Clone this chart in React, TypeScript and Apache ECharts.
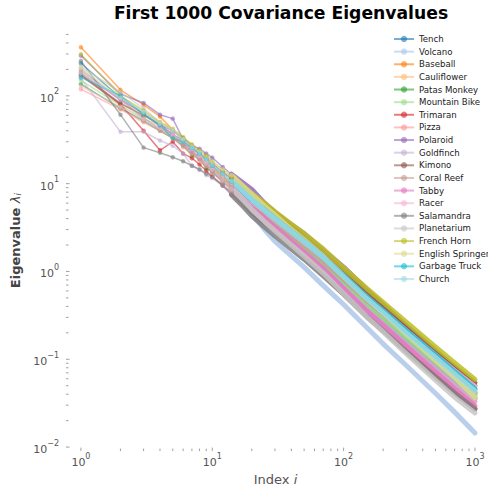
import React, { useEffect, useRef } from "react";
import * as echarts from "echarts";

const INDEX = [1, 2, 3, 4, 5, 6, 7, 8, 9, 10, 12, 14, 17, 20, 25, 30, 40, 50, 70, 100, 150, 200, 300, 500, 700, 1000];
const HEAD_COUNT = 12; // indices 1..14 drawn with visible markers

const tench = [235, 95, 62, 47, 36, 31, 25, 22, 18.5, 15.5, 12.3, 9.9, 7.6, 6.0, 4.5, 3.6, 2.55, 1.98, 1.32, 0.8, 0.45, 0.315, 0.188, 0.099, 0.066, 0.042];
const volcano = [205, 88, 55, 41, 34, 27, 22.5, 19, 16, 13.5, 10.5, 8.2, 6.0, 4.6, 3.0, 2.2, 1.5, 1.12, 0.69, 0.42, 0.23, 0.15, 0.085, 0.041, 0.025, 0.0145];
const baseball = [357, 117, 79, 58, 41, 31, 26, 21, 18, 15, 12, 9.6, 7.3, 5.7, 4.3, 3.4, 2.45, 1.9, 1.25, 0.76, 0.43, 0.3, 0.178, 0.094, 0.062, 0.04];
const cauliflower = [188, 80, 60, 50, 42, 30, 24, 20, 17.5, 14.5, 11.2, 9.2, 7.0, 5.5, 4.2, 3.3, 2.35, 1.8, 1.2, 0.72, 0.41, 0.285, 0.17, 0.089, 0.059, 0.038];
const patasMonkey = [136, 72, 52, 40, 33, 27, 21, 19, 15, 13.5, 10.5, 8.8, 6.8, 5.2, 4.0, 3.2, 2.25, 1.72, 1.13, 0.68, 0.385, 0.27, 0.16, 0.084, 0.055, 0.036];
const mountainBike = [150, 78, 55, 46, 35, 29, 24, 20, 17, 14.5, 11.5, 9.5, 7.2, 5.6, 4.3, 3.4, 2.45, 1.88, 1.25, 0.75, 0.425, 0.295, 0.177, 0.093, 0.062, 0.04];
const trimaran = [170, 80, 40, 24, 30, 22, 19.5, 16.5, 14, 12, 9.6, 7.9, 6.1, 4.8, 3.6, 2.9, 2.0, 1.52, 0.98, 0.58, 0.32, 0.22, 0.127, 0.065, 0.042, 0.0275];
const pizza = [119, 70, 50, 40, 33, 26, 22, 18.5, 16, 13.5, 10.5, 8.6, 6.6, 5.1, 3.9, 3.05, 2.15, 1.62, 1.05, 0.63, 0.355, 0.245, 0.145, 0.076, 0.05, 0.033];
const polaroid = [287, 105, 83, 61, 55, 32, 27, 25, 22, 19.8, 15.5, 12.8, 10.3, 8.6, 6.0, 4.7, 3.4, 2.7, 1.75, 1.12, 0.62, 0.42, 0.24, 0.125, 0.08, 0.05];
const goldfinch = [158, 39, 39, 31, 27, 22, 16, 14.5, 12.5, 11.5, 9.5, 7.9, 6.2, 4.9, 3.8, 3.0, 2.1, 1.62, 1.07, 0.65, 0.37, 0.255, 0.152, 0.08, 0.053, 0.035];
const kimono = [176, 82, 60, 47, 40, 33, 27, 22, 20, 17, 13.5, 11.5, 9.2, 7.6, 5.7, 4.5, 3.2, 2.45, 1.62, 1.0, 0.58, 0.4, 0.235, 0.123, 0.082, 0.054];
const coralReef = [195, 92, 56, 42, 35, 28, 23, 20, 17, 14.5, 11.5, 9.5, 7.3, 5.8, 4.5, 3.6, 2.6, 2.0, 1.33, 0.82, 0.47, 0.33, 0.197, 0.104, 0.069, 0.045];
const tabby = [182, 90, 63, 45, 37, 29, 23, 19.5, 16.5, 14, 11, 9, 6.9, 5.4, 4.0, 3.15, 2.2, 1.66, 1.08, 0.64, 0.355, 0.243, 0.141, 0.072, 0.046, 0.0295];
const racer = [128, 75, 54, 43, 36, 30, 25, 21, 18, 15.5, 12.3, 10.2, 7.9, 6.3, 4.9, 3.9, 2.8, 2.15, 1.43, 0.88, 0.51, 0.355, 0.212, 0.112, 0.074, 0.049];
const salamandra = [250, 61, 25.7, 22.5, 20, 18, 16, 14.5, 13, 12, 9.5, 7.5, 5.6, 4.3, 3.2, 2.55, 1.8, 1.38, 0.89, 0.55, 0.305, 0.21, 0.122, 0.063, 0.041, 0.027];
const planetarium = [215, 110, 72, 50, 40, 31, 25, 20.5, 17, 14.5, 11, 8.8, 6.6, 5.1, 3.7, 2.9, 2.0, 1.5, 0.96, 0.56, 0.305, 0.205, 0.116, 0.058, 0.037, 0.0245];
const frenchHorn = [298, 100, 68, 50, 42, 34, 28, 24, 21, 18, 14.5, 12, 9.5, 7.7, 6.0, 4.8, 3.45, 2.7, 1.8, 1.1, 0.64, 0.445, 0.265, 0.138, 0.091, 0.059];
const englishSpringer = [210, 95, 64, 50, 42, 32, 27, 23, 20, 17.5, 14.5, 12.5, 9.5, 7.6, 5.6, 4.4, 3.0, 2.3, 1.5, 0.9, 0.5, 0.34, 0.195, 0.098, 0.062, 0.0367];
const garbageTruck = [162, 100, 62, 46, 33, 30, 25.5, 22, 19, 16, 13, 10.6, 8.2, 6.5, 5.0, 4.0, 2.85, 2.2, 1.45, 0.89, 0.51, 0.355, 0.21, 0.111, 0.072, 0.046];
const church = [180, 95, 66, 48, 40, 32, 26, 22.5, 19, 16.5, 13, 10.8, 8.3, 6.6, 5.0, 4.0, 2.85, 2.2, 1.45, 0.87, 0.49, 0.34, 0.2, 0.105, 0.068, 0.0436];

const CLASS_NAMES = [
  "Tench", "Volcano", "Baseball", "Cauliflower", "Patas Monkey", "Mountain Bike", "Trimaran", "Pizza",
  "Polaroid", "Goldfinch", "Kimono", "Coral Reef", "Tabby", "Racer", "Salamandra", "Planetarium",
  "French Horn", "English Springer", "Garbage Truck", "Church",
];
const CLASS_VALUES = [
  tench, volcano, baseball, cauliflower, patasMonkey, mountainBike, trimaran, pizza,
  polaroid, goldfinch, kimono, coralReef, tabby, racer, salamandra, planetarium,
  frenchHorn, englishSpringer, garbageTruck, church,
];
// tab20 palette
const BASE_RGB = [
  "31,119,180", "174,199,232", "255,127,14", "255,187,120",
  "44,160,44", "152,223,138", "214,39,40", "255,152,150",
  "148,103,189", "197,176,213", "140,86,75", "196,156,148",
  "227,119,194", "247,182,210", "127,127,127", "199,199,199",
  "188,189,34", "219,219,141", "23,190,207", "158,218,229",
];
const HEAD_ALPHA = 0.6;
const TAIL_ALPHA = 0.85;

const X_MIN = 0.77;
const X_MAX = 1192;
const Y_MIN = 0.009;
const Y_MAX = 562;
const X_DECADES = [1, 10, 100, 1000];
const Y_DECADES = [0.001, 0.01, 0.1, 1, 10, 100];
const MINOR_MULT = [1, 2, 3, 4, 5, 6, 7, 8, 9];

const FONT = "DejaVu Sans";

function tickList(decades: number[], lo: number, hi: number) {
  const out: number[][] = [];
  decades.forEach((d) => {
    MINOR_MULT.forEach((m) => {
      const v = d * m;
      if (v > lo * 1.001 && v < hi * 0.999) out.push([v, m === 1 ? 1 : 0]);
    });
  });
  return out;
}

function powLabel(v: number) {
  const l = Math.log10(v);
  const e = Math.round(l);
  if (Math.abs(l - e) > 1e-6) return "";
  const s = e < 0 ? "\u2212" + Math.abs(e) : String(e);
  return "{b|10}{sup|" + s + "}";
}

const labelRich = {
  b: { fontSize: 11, lineHeight: 16, color: "#555", fontFamily: FONT, verticalAlign: "bottom" },
  sup: { fontSize: 8, lineHeight: 8, color: "#555", fontFamily: FONT, verticalAlign: "top" },
};

export default function App() {
  const ref = useRef<HTMLDivElement>(null);
  useEffect(() => {
    if (!ref.current) return;
    const chart = echarts.init(ref.current, null, { renderer: "svg" });
    const series: any[] = [];
    CLASS_NAMES.forEach((name, k) => {
      const vals = CLASS_VALUES[k];
      const color = "rgba(" + BASE_RGB[k] + "," + HEAD_ALPHA + ")";
      const tailColor = "rgba(" + BASE_RGB[k] + "," + TAIL_ALPHA + ")";
      series.push({
        type: "line",
        name,
        data: INDEX.slice(0, HEAD_COUNT).map((x, j) => [x, vals[j]]),
        symbol: "circle",
        symbolSize: 4.5,
        showAllSymbol: true,
        lineStyle: { width: 1.5, color },
        itemStyle: { color },
        silent: true,
        z: 2,
      });
      series.push({
        type: "line",
        name,
        data: INDEX.slice(HEAD_COUNT - 1).map((x, j) => [x, vals[j + HEAD_COUNT - 1]]),
        symbol: "none",
        lineStyle: { width: 5, color: tailColor, cap: "round", join: "round" },
        itemStyle: { color: tailColor },
        silent: true,
        z: 2,
      });
    });
    const xTicks = tickList(X_DECADES, X_MIN, X_MAX);
    const yTicks = tickList(Y_DECADES, Y_MIN, Y_MAX);
    series.push({
      type: "custom",
      name: "xticks",
      silent: true,
      clip: false,
      data: xTicks.map((t) => [t[0], Y_MIN, t[1]]),
      renderItem: (_p: any, api: any) => {
        const p = api.coord([api.value(0), Y_MIN]);
        const len = api.value(2) ? 3.5 : 2.5;
        return {
          type: "line",
          shape: { x1: p[0], y1: p[1], x2: p[0], y2: p[1] - len },
          style: { stroke: "#888", lineWidth: 0.8 },
        };
      },
    });
    series.push({
      type: "custom",
      name: "yticks",
      silent: true,
      clip: false,
      data: yTicks.map((t) => [X_MIN, t[0], t[1]]),
      renderItem: (_p: any, api: any) => {
        const p = api.coord([X_MIN, api.value(1)]);
        const len = api.value(2) ? 3.5 : 2.5;
        return {
          type: "line",
          shape: { x1: p[0], y1: p[1], x2: p[0] + len, y2: p[1] },
          style: { stroke: "#888", lineWidth: 0.8 },
        };
      },
    });

    chart.setOption({
      animation: false,
      backgroundColor: "#ffffff",
      graphic: [
        {
          type: "text",
          x: 281,
          y: 4,
          style: {
            text: "First 1000 Covariance Eigenvalues",
            fontSize: 17.2,
            fontWeight: "bold",
            fontFamily: FONT,
            fill: "#000",
            textAlign: "center",
          },
        },
      ],
      grid: { left: 66, right: 0, top: 30, bottom: 39, containLabel: false },
      legend: {
        data: CLASS_NAMES,
        orient: "vertical",
        left: 393,
        top: 34.5,
        padding: 0,
        itemWidth: 20,
        itemHeight: 8,
        itemGap: 3.63,
        selectedMode: false,
        textStyle: { fontSize: 8.6, lineHeight: 9, fontFamily: FONT, color: "#222", padding: [0, 0, 0, 0] },
      },
      xAxis: {
        type: "log",
        min: X_MIN,
        max: X_MAX,
        axisLine: { show: false },
        axisTick: { show: false },
        splitLine: { show: false },
        axisLabel: { formatter: powLabel, rich: labelRich, margin: 1, hideOverlap: false },
        name: "{n|Index }{i|i}",
        nameLocation: "middle",
        nameGap: 14,
        nameTextStyle: {
          rich: {
            n: { fontSize: 13, fontFamily: FONT, color: "#555" },
            i: { fontSize: 13, fontFamily: FONT, color: "#555", fontStyle: "italic" },
          },
        },
      },
      yAxis: {
        type: "log",
        min: Y_MIN,
        max: Y_MAX,
        axisLine: { show: false },
        axisTick: { show: false },
        splitLine: { show: false },
        axisLabel: { formatter: powLabel, rich: labelRich, margin: 7, hideOverlap: false },
        name: "{b|Eigenvalue }{l|\u03bb}{s|i}",
        nameLocation: "middle",
        nameGap: 41,
        nameTextStyle: {
          rich: {
            b: { fontSize: 13, fontWeight: "bold", fontFamily: FONT, color: "#444", lineHeight: 16, verticalAlign: "bottom" },
            l: { fontSize: 13, fontFamily: FONT, color: "#444", fontStyle: "italic", lineHeight: 16, verticalAlign: "bottom" },
            s: { fontSize: 9, fontFamily: FONT, color: "#444", fontStyle: "italic", lineHeight: 9, verticalAlign: "bottom" },
          },
        },
      },
      series,
    });
    return () => chart.dispose();
  }, []);
  return (
    <div
      ref={ref}
      style={{ position: "fixed", left: 0, top: 0, width: 488, height: 491, background: "#fff" }}
    />
  );
}
